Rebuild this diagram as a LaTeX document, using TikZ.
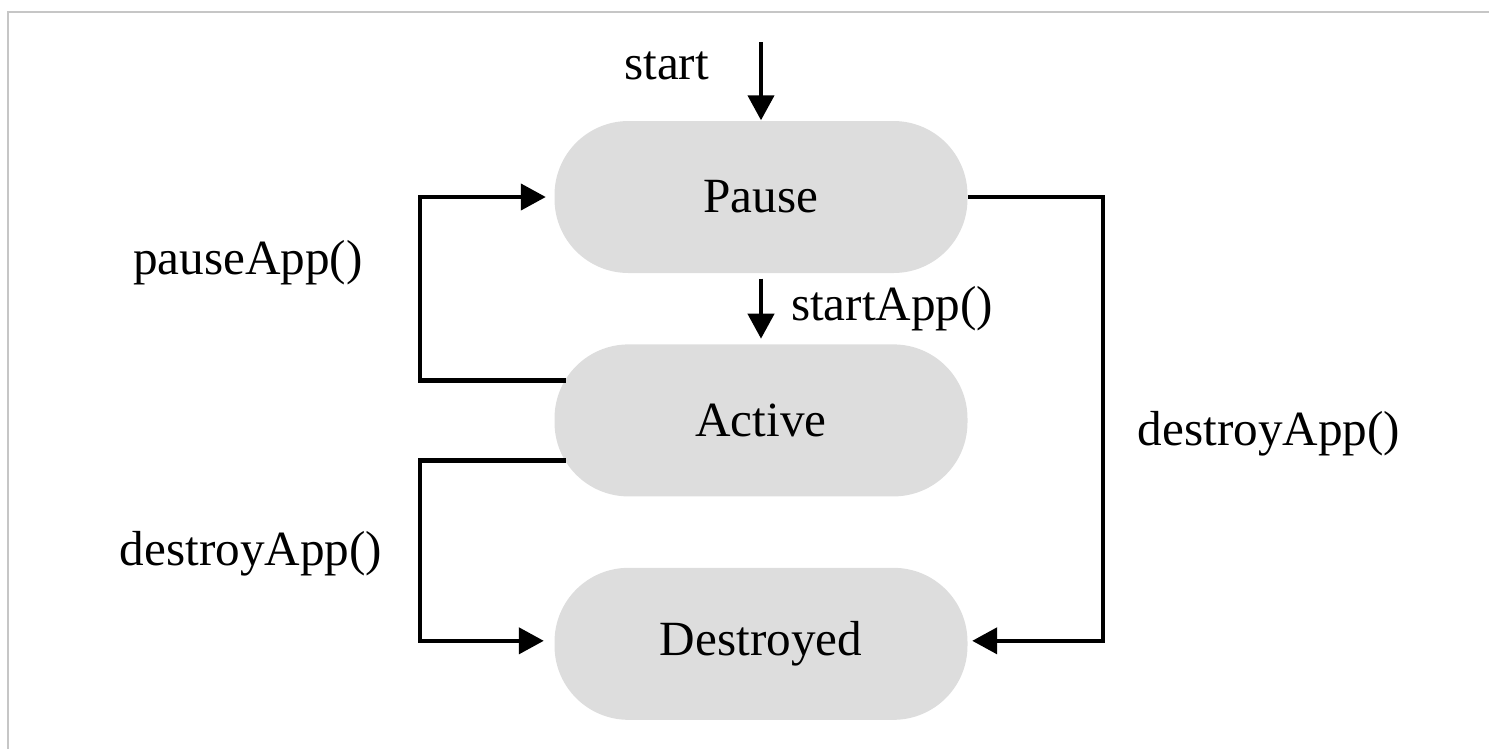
\documentclass[tikz,border=0pt]{standalone}
\usepackage{fontspec}
\setmainfont{Liberation Serif}
\usetikzlibrary{arrows.meta, positioning}
\definecolor{stategray}{RGB}{221,221,221}
\tikzstyle{line} = [draw, -{Triangle[length=2.5mm,width=2.6mm]}, line width=1.2pt]
\tikzstyle{stateblock} = [rectangle, fill=stategray, rounded corners=0.74cm,
  minimum width=4.13cm, minimum height=1.52cm, font=\fontsize{14}{17}\selectfont]
\tikzstyle{lbl} = [inner sep=0pt, font=\fontsize{14}{17}\selectfont]

\begin{document}
\begin{tikzpicture}[node distance=0.7cm]

      \useasboundingbox (0,0) rectangle (14.89,7.49);
      \draw [gray!45, line width=0.8pt] (14.89,7.37) -- (0.08,7.37) -- (0.08,0);

      %
      % States
      %

      \node [stateblock] (pause) at (7.61,5.52) {Pause};
      \node [stateblock, below=of pause] (active) {Active};
      \node [stateblock, below=of active] (destroyed) {Destroyed};

      \coordinate (entry) at (7.61,7.07);

      %
      % Transitions
      %

      \path [line] (entry) -- (pause.north)
        node [lbl, pos=0.3, left=0.5cm] (startlbl) {start};
      \path [line, shorten <=0.05cm, shorten >=0.05cm] (pause.south) -- (active.north)
        node [lbl, midway, right=0.28cm] (startapplbl) {startApp()};
      \path [line] ([xshift=0.12cm,yshift=0.4cm]active.west) -- ++(-1.46,0)
        |- ([xshift=-0.08cm]pause.west);
      \path [line] ([xshift=0.12cm,yshift=-0.4cm]active.west) -- ++(-1.46,0)
        |- ([xshift=-0.1cm,yshift=0.03cm]destroyed.west);
      \path [line] (pause.east) -- ++(1.35,0)
        |- ([xshift=0.04cm,yshift=0.03cm]destroyed.east);

      \node [lbl] (pauselbl) at (2.48,4.86) {pauseApp()};
      \node [lbl] (destroyllbl) at (2.51,1.95) {destroyApp()};
      \node [lbl] (destroyrlbl) at (12.69,3.15) {destroyApp()};

    \end{tikzpicture}
\end{document}
